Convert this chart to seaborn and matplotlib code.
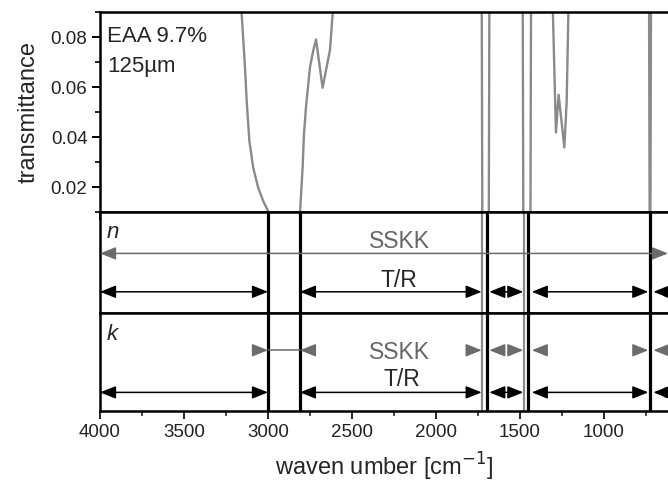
import numpy as np
import pandas as pd
import seaborn as sns
import matplotlib.pyplot as plt
from matplotlib.ticker import MultipleLocator

sns.set_theme(style="ticks")
plt.rcParams['font.family'] = ['Liberation Sans', 'DejaVu Sans']

# --- spectrum (values outside 0.01-0.09 are off-scale) ---
wn_ch = [3165, 3157, 3137, 3127, 3111, 3088, 3058, 3028, 2998, 2950, 2850, 2810,
         2794, 2786, 2774, 2760, 2750, 2730, 2714, 2675, 2651, 2631, 2615, 2608]
tr_ch = [0.1, 0.0895, 0.068, 0.0546, 0.0385, 0.0277, 0.0196, 0.0143, 0.0102, 0.0, 0.0, 0.009,
         0.0277, 0.0411, 0.0519, 0.0613, 0.068, 0.0748, 0.079, 0.0597, 0.068, 0.0748, 0.0895, 0.1]
wn_co = [1728, 1724, 1686, 1682]
tr_co = [0.1, 0.0, 0.0, 0.1]
wn_bend = [1484, 1480, 1438, 1434]
tr_bend = [0.1, 0.0, 0.0, 0.1]
wn_mid = [1308, 1304, 1286, 1270, 1236, 1222, 1212, 1209]
tr_mid = [0.1, 0.0895, 0.0418, 0.0569, 0.0358, 0.0546, 0.0895, 0.1]
wn_rock = [732, 728, 724, 720]
tr_rock = [0.1, 0.0, 0.0, 0.1]

# --- evaluation regions ---
black_edges = [3000, 2810, 1696, 1452, 726]
gray_edges = [1724, 1478]
tr_segments = [(4000, 3000), (2810, 1728), (1683, 1480), (1430, 736)]
sskk_gaps = [(3000, 2810), (1728, 1683), (1480, 1430), (736, 706)]
x_left, x_right = 4000, 619

bands = {'ch': (wn_ch, tr_ch), 'co': (wn_co, tr_co), 'bend': (wn_bend, tr_bend),
         'mid': (wn_mid, tr_mid), 'rock': (wn_rock, tr_rock)}
df = pd.concat([pd.DataFrame({'wn': w, 'T': t, 'band': k}) for k, (w, t) in bands.items()],
               ignore_index=True)

spec_gray = '#8a8a8a'
arrow_gray = '#6b6b6b'

fig = plt.figure(figsize=(6.68, 4.87), dpi=100)
gs = fig.add_gridspec(3, 1, height_ratios=[200, 101, 98], hspace=0,
                      left=100 / 668, right=1.0, top=1 - 12 / 487, bottom=1 - 411 / 487)
ax_t = fig.add_subplot(gs[0])
ax_n = fig.add_subplot(gs[1], sharex=ax_t)
ax_k = fig.add_subplot(gs[2], sharex=ax_t)

sns.lineplot(data=df, x='wn', y='T', units='band', estimator=None, sort=False,
             color=spec_gray, lw=1.7, ax=ax_t, legend=False)
ax_t.set_xlim(x_left, x_right)
ax_t.set_ylim(0.01, 0.09)
ax_t.yaxis.set_major_locator(MultipleLocator(0.02))
ax_t.yaxis.set_minor_locator(MultipleLocator(0.01))
ax_t.set_ylabel('transmittance', fontsize=17, labelpad=8)
ax_t.set_xlabel('')
ax_t.text(0.013, 0.93, 'EAA 9.7%', transform=ax_t.transAxes, fontsize=16, va='top', ha='left')
ax_t.text(0.013, 0.78, '125µm', transform=ax_t.transAxes, fontsize=16, va='top', ha='left')


def arrow(ax, x0, x1, y, color, style='<|-|>'):
    ax.annotate('', xy=(x1, y), xytext=(x0, y),
                arrowprops=dict(arrowstyle=style + ',head_length=0.8,head_width=0.32',
                                color=color, lw=1.1, shrinkA=0, shrinkB=0, mutation_scale=12))


for ax in (ax_n, ax_k):
    ax.set_ylim(0, 1)
    for e in black_edges:
        ax.axvline(e, color='black', lw=2.3)
    for e in gray_edges:
        ax.axvline(e, color=spec_gray, lw=1.6)

# n panel
ax_n.text(0.012, 0.8, 'n', transform=ax_n.transAxes, fontsize=16, style='italic', va='center')
ax_n.text(2220, 0.71, 'SSKK', fontsize=16.5, color='#666666', ha='center', va='center')
arrow(ax_n, x_left, x_right, 0.59, arrow_gray)
ax_n.text(2220, 0.32, 'T/R', fontsize=16.5, ha='center', va='center')
for a, b in tr_segments:
    arrow(ax_n, a, b, 0.21, 'black')
arrow(ax_n, x_right, 706, 0.21, 'black', style='-|>')
ax_n.plot([624], [0.21], 'o', color='black', ms=6, clip_on=False)

# k panel
ax_k.text(0.012, 0.78, 'k', transform=ax_k.transAxes, fontsize=16, style='italic', va='center')
ax_k.text(2215, 0.60, 'SSKK', fontsize=16.5, color='#666666', ha='center', va='center')
ax_k.text(2205, 0.32, 'T/R', fontsize=16.5, ha='center', va='center')
y_s = 0.62
ax_k.plot(list(sskk_gaps[0]), [y_s, y_s], color=arrow_gray, lw=1.1)
for a, b in sskk_gaps:
    arrow(ax_k, a + 60, a, y_s, arrow_gray, style='-|>')
    arrow(ax_k, b - 60, b, y_s, arrow_gray, style='-|>')
for a, b in tr_segments:
    arrow(ax_k, a, b, 0.19, 'black')
arrow(ax_k, x_right, 706, 0.19, 'black', style='-|>')
ax_k.plot([624], [0.19], 'o', color='black', ms=7, clip_on=False)

# axes styling
for ax in (ax_t, ax_n, ax_k):
    for s in ('left', 'top', 'bottom'):
        ax.spines[s].set_linewidth(1.8)
        ax.spines[s].set_color('black')
    ax.spines['right'].set_visible(False)

ax_t.xaxis.set_major_locator(MultipleLocator(500))
ax_t.xaxis.set_minor_locator(MultipleLocator(250))
ax_t.tick_params(axis='both', which='major', direction='out', length=5.5, width=1.4,
                 labelsize=13.5, color='black', labelcolor='#222222')
ax_t.tick_params(axis='both', which='minor', direction='out', length=3.5, width=1.2, color='black')
ax_t.tick_params(axis='x', which='both', labelbottom=False)
ax_n.tick_params(axis='both', which='both', length=0, labelbottom=False, labelleft=False)
ax_k.tick_params(axis='y', which='both', length=0, labelleft=False)
ax_k.tick_params(axis='x', which='major', direction='out', length=5.5, width=1.4,
                 labelsize=13.5, labelcolor='#222222', pad=4)
ax_k.tick_params(axis='x', which='minor', direction='out', length=3.5, width=1.2)
ax_n.set_ylabel('')
ax_k.set_ylabel('')
ax_k.set_xlabel('waven umber [cm$^{-1}$]', fontsize=17, labelpad=7)

fig.savefig('out.png', dpi=100)
